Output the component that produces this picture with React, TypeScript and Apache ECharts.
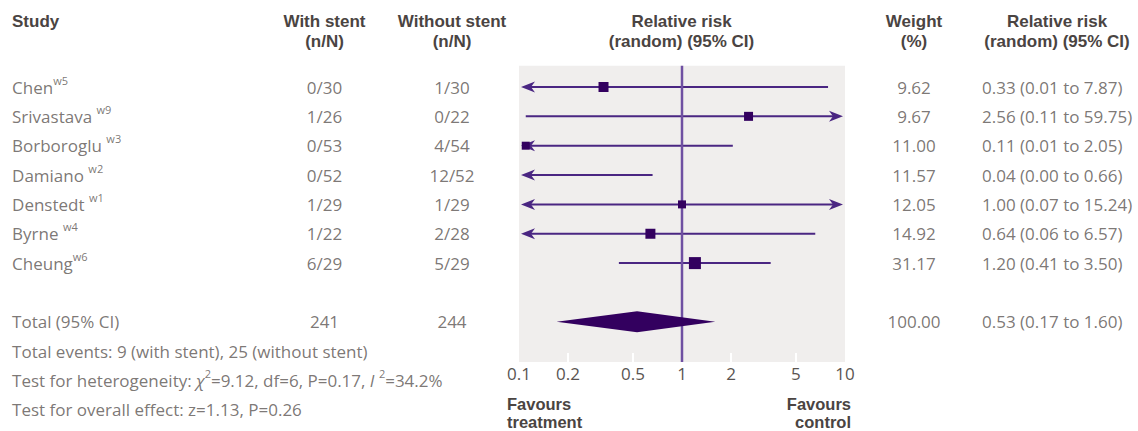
import React, { useEffect, useRef } from 'react';
import * as echarts from 'echarts';

// ---------- data ----------
const studies = ['Chen', 'Srivastava', 'Borboroglu', 'Damiano', 'Denstedt', 'Byrne', 'Cheung'];
const studyRefs = ['w5', 'w9', 'w3', 'w2', 'w1', 'w4', 'w6'];
const refSpaced = [false, true, true, true, true, true, false];
const withStent = ['0/30', '1/26', '0/53', '0/52', '1/29', '1/22', '6/29'];
const withoutStent = ['1/30', '0/22', '4/54', '12/52', '1/29', '2/28', '5/29'];
const riskRatio = [0.33, 2.56, 0.11, 0.04, 1.0, 0.64, 1.2];
const ciLow = [0.01, 0.11, 0.01, 0.0, 0.07, 0.06, 0.41];
const ciHigh = [7.87, 59.75, 2.05, 0.66, 15.24, 6.57, 3.5];
const weights = [9.62, 9.67, 11.0, 11.57, 12.05, 14.92, 31.17];

const totalLabel = 'Total (95% CI)';
const totalWith = 241;
const totalWithout = 244;
const totalWeight = 100.0;
const pooledRR = 0.53;
const pooledLow = 0.17;
const pooledHigh = 1.6;

const eventsWith = 9;
const eventsWithout = 25;
const chiSquare = 9.12;
const degreesFreedom = 6;
const pHeterogeneity = 0.17;
const iSquare = 34.2;
const zValue = 1.13;
const pOverall = 0.26;

const tickValues = [0.1, 0.2, 0.5, 1, 2, 5, 10];
const innerTickValues = [0.2, 0.5, 2, 5];

const headers = [
  'Study',
  'With stent\n(n/N)',
  'Without stent\n(n/N)',
  'Relative risk\n(random) (95% CI)',
  'Weight\n(%)',
  'Relative risk\n(random) (95% CI)',
];
const favoursLeft = 'Favours\ntreatment';
const favoursRight = 'Favours\ncontrol';

// ---------- style / layout ----------
const squareSizes = [10, 9, 8, 8, 8, 10, 12];
const FONT = '"Open Sans", "Noto Sans", sans-serif';
const HEAD_FONT = '"Liberation Sans", Arial, sans-serif';
const TEXT = '#5a5451';
const HEAD = '#4a4442';
const LINE = '#4a2682';
const MARK = '#33005f';
const REF = '#6f50a2';
const PANEL = '#f0eeed';
const FS = 17;

const ROW0_Y = 87;
const ROW_STEP = 29.35;
const PLOT_LEFT = 519;
const PLOT_WIDTH = 326;
const PLOT_ROW_MIN = -0.72;
const PLOT_ROW_MAX = 9.37;
const TABLE_ROW_MIN = -2.5;
const TABLE_ROW_MAX = 11.5;

const COL_STUDY = 12;
const COL_WITH = 324.5;
const COL_WITHOUT = 452;
const COL_PLOT_HEAD = 681.5;
const COL_WEIGHT = 914;
const COL_RR = 982;
const COL_RR_HEAD = 1057;

const AX_MIN = 0.1;
const AX_MAX = 10;

const fmt2 = (v: number) => v.toFixed(2);
const rrText = (e: number, l: number, h: number) => `${fmt2(e)} (${fmt2(l)} to ${fmt2(h)})`;

const totalRow = studies.length + 1;

const RICH = {
  sup: { fontSize: 11, fontFamily: FONT, color: TEXT, padding: [0, 0, 14, 0] },
  it: { fontSize: FS, fontFamily: FONT, color: TEXT, fontStyle: 'italic' },
};

function textSeries(items: [number, number, string][], align: 'left' | 'center') {
  return {
    type: 'scatter',
    xAxisIndex: 2,
    yAxisIndex: 1,
    symbolSize: 0.1,
    silent: true,
    z: 6,
    itemStyle: { color: 'transparent' },
    data: items.map(([x, r, t]) => ({ value: [x, r], name: t })),
    label: {
      show: true,
      position: align === 'left' ? 'right' : 'inside',
      distance: 0,
      formatter: (p: any) => p.name,
      color: TEXT,
      fontFamily: FONT,
      fontSize: FS,
      rich: RICH,
    },
    labelLayout: { hideOverlap: false },
  };
}

function buildOption() {
  const studyItems: [number, number, string][] = studies.map((s, i) => [
    COL_STUDY,
    i,
    `${s}${refSpaced[i] ? ' ' : ''}{sup|${studyRefs[i]}}`,
  ]);
  studyItems.push([COL_STUDY, totalRow, totalLabel]);
  studyItems.push([COL_STUDY, totalRow + 1, `Total events: ${eventsWith} (with stent), ${eventsWithout} (without stent)`]);
  studyItems.push([
    COL_STUDY,
    totalRow + 2,
    `Test for heterogeneity: {it|χ}{sup|2}=${chiSquare.toFixed(2)}, df=${degreesFreedom}, P=${pHeterogeneity.toFixed(2)}, {it|I} {sup|2}=${iSquare.toFixed(1)}%`,
  ]);
  studyItems.push([COL_STUDY, totalRow + 3, `Test for overall effect: z=${zValue.toFixed(2)}, P=${pOverall.toFixed(2)}`]);

  const withItems: [number, number, string][] = withStent.map((t, i) => [COL_WITH, i, t]);
  withItems.push([COL_WITH, totalRow, String(totalWith)]);
  const withoutItems: [number, number, string][] = withoutStent.map((t, i) => [COL_WITHOUT, i, t]);
  withoutItems.push([COL_WITHOUT, totalRow, String(totalWithout)]);
  const weightItems: [number, number, string][] = weights.map((w, i) => [COL_WEIGHT, i, fmt2(w)]);
  weightItems.push([COL_WEIGHT, totalRow, fmt2(totalWeight)]);
  const rrItems: [number, number, string][] = riskRatio.map((r, i) => [COL_RR, i, rrText(r, ciLow[i], ciHigh[i])]);
  rrItems.push([COL_RR, totalRow, rrText(pooledRR, pooledLow, pooledHigh)]);

  const plotTop = ROW0_Y + PLOT_ROW_MIN * ROW_STEP;
  const plotHeight = (PLOT_ROW_MAX - PLOT_ROW_MIN) * ROW_STEP;
  const tableTop = ROW0_Y + TABLE_ROW_MIN * ROW_STEP;
  const tableHeight = (TABLE_ROW_MAX - TABLE_ROW_MIN) * ROW_STEP;

  const forestData = studies.map((s, i) => [riskRatio[i], i, ciLow[i], ciHigh[i], squareSizes[i]]);

  const ciRender = (params: any, api: any) => {
    const row = api.value(1);
    const lo = api.value(2);
    const hi = api.value(3);
    const y = api.coord([1, row])[1];
    const xLo = api.coord([Math.max(lo, AX_MIN), row])[0];
    const xHi = api.coord([Math.min(hi, AX_MAX), row])[0];
    const children: any[] = [];
    let x1 = xLo;
    let x2 = xHi;
    if (lo < AX_MIN) {
      const tip = xLo + 2;
      x1 = tip + 8;
      children.push({
        type: 'polygon',
        shape: { points: [[tip, y], [tip + 14, y - 5.5], [tip + 10, y], [tip + 14, y + 5.5]] },
        style: { fill: LINE },
      });
    }
    if (hi > AX_MAX) {
      const tip = xHi - 2;
      x2 = tip - 8;
      children.push({
        type: 'polygon',
        shape: { points: [[tip, y], [tip - 14, y - 5.5], [tip - 10, y], [tip - 14, y + 5.5]] },
        style: { fill: LINE },
      });
    }
    children.push({
      type: 'line',
      shape: { x1, y1: y, x2, y2: y },
      style: { stroke: LINE, lineWidth: 2 },
    });
    return { type: 'group', children };
  };

  const squareRender = (params: any, api: any) => {
    const est = api.value(0);
    if (est < AX_MIN || est > AX_MAX) return { type: 'group', children: [] };
    const p = api.coord([est, api.value(1)]);
    const s = api.value(4);
    return {
      type: 'rect',
      shape: { x: p[0] - s / 2, y: p[1] - s / 2, width: s, height: s },
      style: { fill: MARK },
    };
  };

  const diamondRender = (params: any, api: any) => {
    const row = api.value(1);
    const c = api.coord([api.value(0), row]);
    const l = api.coord([api.value(2), row]);
    const h = api.coord([api.value(3), row]);
    return {
      type: 'polygon',
      shape: { points: [[l[0], c[1]], [c[0], c[1] - 10.5], [h[0], c[1]], [c[0], c[1] + 10.5]] },
      style: { fill: MARK },
    };
  };

  const refRender = (params: any, api: any) => {
    const cs = params.coordSys;
    const x = api.coord([api.value(0), 0])[0];
    return {
      type: 'line',
      shape: { x1: x, y1: cs.y, x2: x, y2: cs.y + cs.height },
      style: { stroke: REF, lineWidth: 2.5 },
    };
  };

  const headText = (text: string, x: number, y: number, align: string, fs: number, lh: number) => ({
    type: 'text',
    x,
    y,
    silent: true,
    style: {
      text,
      fill: HEAD,
      fontFamily: HEAD_FONT,
      fontSize: fs,
      fontWeight: 'bold',
      lineHeight: lh,
      align,
      verticalAlign: 'middle',
    },
  });

  const HEAD_Y = 31.5;
  const FAV_Y = 413;

  return {
    animation: false,
    grid: [
      {
        left: PLOT_LEFT,
        width: PLOT_WIDTH,
        top: plotTop,
        height: plotHeight,
        show: true,
        backgroundColor: PANEL,
        borderWidth: 0,
        containLabel: false,
        outerBoundsMode: 'none',
      },
      {
        left: 0,
        width: 1138,
        top: tableTop,
        height: tableHeight,
        containLabel: false,
        outerBoundsMode: 'none',
      },
    ],
    xAxis: [
      { type: 'log', logBase: 10, min: AX_MIN, max: AX_MAX, gridIndex: 0, show: false },
      {
        type: 'value',
        gridIndex: 0,
        min: Math.log10(AX_MIN),
        max: Math.log10(AX_MAX),
        position: 'bottom',
        axisLine: { show: false },
        splitLine: { show: false },
        axisTick: {
          show: true,
          inside: true,
          length: 9,
          lineStyle: { color: '#ffffff', width: 2 },
          customValues: innerTickValues.map((v) => Math.log10(v)),
        },
        axisLabel: {
          show: true,
          customValues: tickValues.map((v) => Math.log10(v)),
          formatter: (v: number) => String(Number(Math.pow(10, v).toPrecision(6))),
          color: TEXT,
          fontFamily: FONT,
          fontSize: FS,
          margin: 3,
        },
      },
      { type: 'value', gridIndex: 1, min: 0, max: 1138, show: false },
    ],
    yAxis: [
      { type: 'value', gridIndex: 0, min: PLOT_ROW_MIN, max: PLOT_ROW_MAX, inverse: true, show: false },
      { type: 'value', gridIndex: 1, min: TABLE_ROW_MIN, max: TABLE_ROW_MAX, inverse: true, show: false },
    ],
    series: [
      {
        type: 'custom',
        xAxisIndex: 0,
        yAxisIndex: 0,
        z: 2,
        silent: true,
        renderItem: ciRender,
        encode: { x: 0, y: 1 },
        data: forestData,
      },
      {
        type: 'custom',
        xAxisIndex: 0,
        yAxisIndex: 0,
        z: 3,
        silent: true,
        renderItem: refRender,
        encode: { x: 0, y: 1 },
        data: [[1, 0]],
      },
      {
        type: 'custom',
        xAxisIndex: 0,
        yAxisIndex: 0,
        z: 4,
        silent: true,
        renderItem: squareRender,
        encode: { x: 0, y: 1 },
        data: forestData,
      },
      {
        type: 'custom',
        xAxisIndex: 0,
        yAxisIndex: 0,
        z: 4,
        silent: true,
        renderItem: diamondRender,
        encode: { x: 0, y: 1 },
        data: [[pooledRR, totalRow, pooledLow, pooledHigh]],
      },
      textSeries(studyItems, 'left'),
      textSeries(withItems, 'center'),
      textSeries(withoutItems, 'center'),
      textSeries(weightItems, 'center'),
      textSeries(rrItems, 'left'),
    ],
    graphic: [
      headText(headers[0], COL_STUDY, 21.5, 'left', 17, 20),
      headText(headers[1], COL_WITH, HEAD_Y, 'center', 17, 20),
      headText(headers[2], COL_WITHOUT, HEAD_Y, 'center', 17, 20),
      headText(headers[3], COL_PLOT_HEAD, HEAD_Y, 'center', 17, 20),
      headText(headers[4], COL_WEIGHT, HEAD_Y, 'center', 17, 20),
      headText(headers[5], COL_RR_HEAD, HEAD_Y, 'center', 17, 20),
      headText(favoursLeft, 507, FAV_Y, 'left', 16.5, 18.5),
      headText(favoursRight, 851, FAV_Y, 'right', 16.5, 18.5),
    ],
  };
}

export default function App() {
  const ref = useRef<HTMLDivElement>(null);
  useEffect(() => {
    document.body.style.margin = '0';
    const chart = echarts.init(ref.current as HTMLDivElement, undefined, { renderer: 'svg' });
    chart.setOption(buildOption() as any);
    return () => chart.dispose();
  }, []);
  return <div ref={ref} style={{ width: 1138, height: 431 }} />;
}
